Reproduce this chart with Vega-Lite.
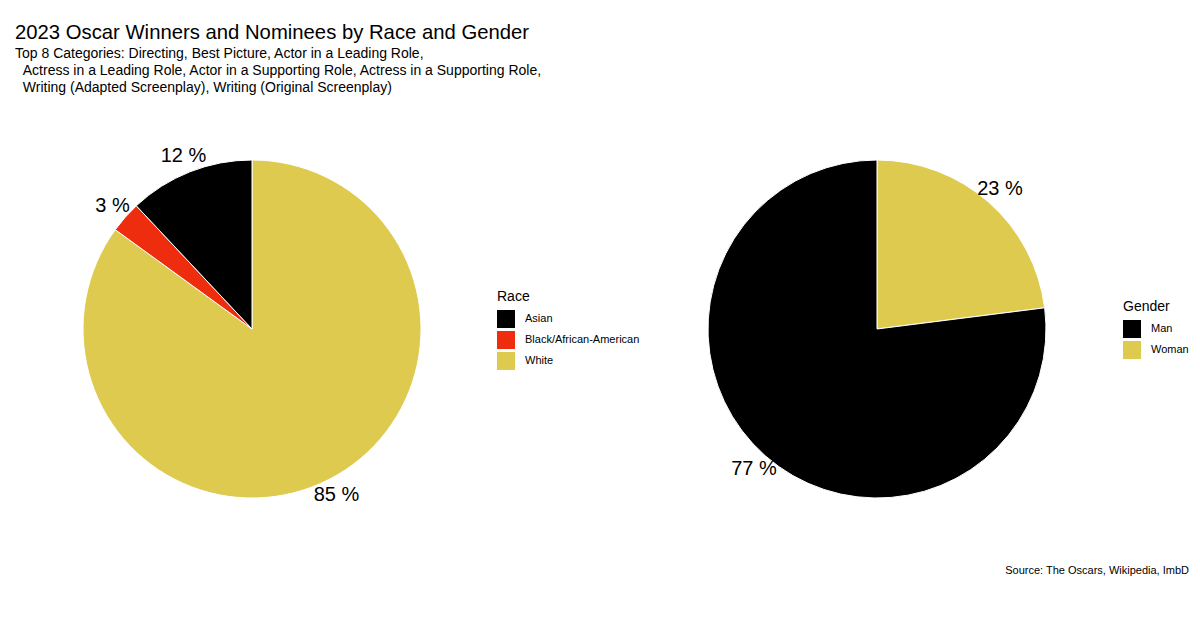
{
  "$schema": "https://vega.github.io/schema/vega-lite/v6.json",
  "padding": {"left": 15, "top": 22, "right": 5, "bottom": 5},
  "background": "white",
  "config": {
    "font": "Liberation Sans",
    "view": {"stroke": null},
    "legend": {"titleFontWeight": "normal", "titleFontSize": 14, "labelFontSize": 11, "symbolType": "square", "symbolSize": 324, "symbolStrokeWidth": 0, "rowPadding": 3, "labelOffset": 10, "titlePadding": 6, "titleColor": "black", "labelColor": "black"}
  },
  "title": {
    "text": "2023 Oscar Winners and Nominees by Race and Gender",
    "subtitle": ["Top 8 Categories: Directing, Best Picture, Actor in a Leading Role,", "\u200b\u00a0\u00a0Actress in a Leading Role, Actor in a Supporting Role, Actress in a Supporting Role,", "\u200b\u00a0\u00a0Writing (Adapted Screenplay), Writing (Original Screenplay)"],
    "anchor": "start",
    "fontSize": 20.3,
    "fontWeight": "normal",
    "color": "black",
    "subtitleFontSize": 14,
    "subtitleColor": "black",
    "subtitleLineHeight": 17,
    "subtitlePadding": 4,
    "offset": 18
  },
  "datasets": {
    "race": [
      {"race": "White", "pct": 85, "label": "85 %", "ord": 1},
      {"race": "Black/African-American", "pct": 3, "label": "3 %", "ord": 2},
      {"race": "Asian", "pct": 12, "label": "12 %", "ord": 3}
    ],
    "gender": [
      {"gender": "Woman", "pct": 23, "label": "23 %", "ord": 1},
      {"gender": "Man", "pct": 77, "label": "77 %", "ord": 2}
    ]
  },
  "hconcat": [
    {
      "width": 474,
      "height": 432,
      "data": {"name": "race"},
      "encoding": {
        "theta": {"field": "pct", "type": "quantitative", "stack": true},
        "order": {"field": "ord", "type": "quantitative"}
      },
      "layer": [
        {
          "mark": {"type": "arc", "outerRadius": 169, "stroke": "white", "strokeWidth": 1},
          "encoding": {
            "color": {
              "field": "race", "type": "nominal",
              "scale": {"domain": ["Asian", "Black/African-American", "White"], "range": ["#000000", "#EE2D0F", "#DFCA50"]},
              "legend": {"title": "Race", "orient": "none", "legendX": 482, "legendY": 177}
            }
          }
        },
        {
          "mark": {"type": "text", "radius": 186, "fontSize": 20, "color": "black"},
          "encoding": {
            "text": {"field": "label"},
            "detail": {"field": "race"}
          }
        }
      ]
    },
    {
      "width": 472,
      "height": 432,
      "data": {"name": "gender"},
      "title": {"text": "Source: The Oscars, Wikipedia, ImbD", "orient": "bottom", "anchor": "end", "fontSize": 11, "fontWeight": "normal", "color": "black", "offset": 20},
      "encoding": {
        "theta": {"field": "pct", "type": "quantitative", "stack": true},
        "order": {"field": "ord", "type": "quantitative"}
      },
      "layer": [
        {
          "mark": {"type": "arc", "outerRadius": 169, "stroke": "white", "strokeWidth": 1},
          "encoding": {
            "color": {
              "field": "gender", "type": "nominal",
              "scale": {"domain": ["Man", "Woman"], "range": ["#000000", "#DFCA50"]},
              "legend": {"title": "Gender", "orient": "none", "legendX": 482, "legendY": 187}
            }
          }
        },
        {
          "mark": {"type": "text", "radius": 186, "fontSize": 20, "color": "black"},
          "encoding": {
            "text": {"field": "label"},
            "detail": {"field": "gender"}
          }
        }
      ]
    }
  ],
  "spacing": 152,
  "bounds": "flush",
  "resolve": {"scale": {"color": "independent"}}
}
